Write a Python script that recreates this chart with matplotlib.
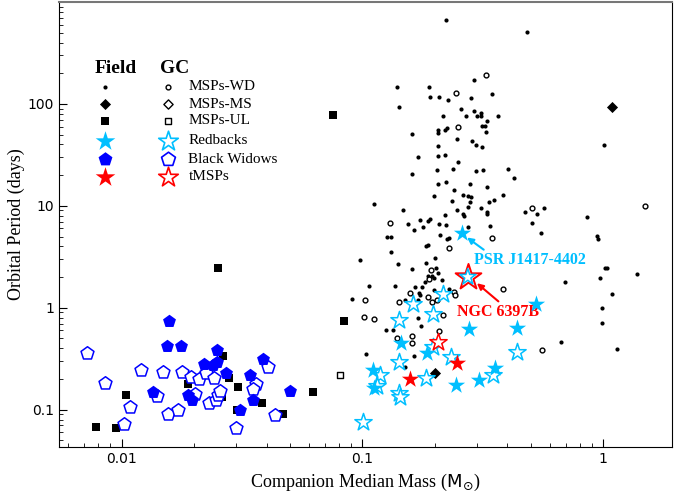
import matplotlib
matplotlib.use('Agg')
import matplotlib.pyplot as plt

# field MSPs with white dwarf companions
fwd_m = [0.223, 0.139, 0.189, 0.191, 0.208, 0.226, 0.282, 0.344, 0.291, 0.142, 0.258, 0.217, 0.270,
         0.290, 0.299, 0.311, 0.311, 0.328, 0.366, 0.324, 0.313, 0.325, 0.207, 0.207, 0.220, 0.225,
         0.161, 0.247, 0.286, 0.297, 0.314, 0.206, 0.171, 0.206, 0.221, 0.249, 0.161, 0.204, 0.238,
         0.297, 0.317, 0.402, 0.206, 0.222, 0.241, 0.281, 0.330, 0.198, 0.262, 0.274, 0.283, 0.235,
         0.279, 0.337, 0.353, 0.383, 0.112, 0.147, 0.247, 0.262, 0.263, 0.274, 0.312, 0.328, 0.329,
         0.220, 0.154, 0.164, 0.173, 0.179, 0.187, 0.191, 0.208, 0.222, 0.274, 0.339, 0.126, 0.131,
         0.210, 0.225, 0.228, 0.183, 0.187, 0.131, 0.0977, 0.140, 0.160, 0.184, 0.201, 0.202, 0.207,
         0.188, 0.194, 0.198, 0.215, 0.182, 0.177, 0.165, 0.136, 0.107, 0.0908, 0.151, 0.172, 0.173,
         0.170, 0.198, 0.230, 0.171, 0.125, 0.134, 0.176, 0.104, 0.164, 0.150, 0.484, 1.01, 0.426,
         0.472, 0.530, 0.569, 0.506, 0.551, 0.857, 0.946, 0.954, 1.02, 1.04, 0.973, 1.38, 0.693,
         1.09, 0.993, 0.988, 0.671, 1.14]
fwd_p = [661, 145, 148, 118, 116, 110, 114, 124, 173, 92.6, 89.9, 76.3, 75.6,
         84.6, 75.6, 81.6, 75.6, 67.5, 75.6, 60.9, 60.9, 53.1, 55.6, 52.3, 55.6, 58.2,
         50.3, 45.7, 43.7, 39.6, 37.9, 38.4, 30.2, 30.6, 31.8, 26.8, 20.7, 22.5, 23.2,
         22.0, 22.7, 23.2, 16.2, 17.2, 14.4, 16.3, 15.4, 12.4, 12.7, 12.5, 12.3, 11.1,
         10.9, 11.0, 11.5, 12.8, 10.5, 9.14, 9.0, 8.35, 7.91, 9.84, 9.55, 8.79, 8.35,
         8.16, 6.66, 5.73, 7.18, 6.22, 7.06, 7.39, 6.66, 6.51, 6.22, 6.27, 4.92, 4.92,
         5.23, 4.78, 4.85, 4.05, 4.11, 3.54, 2.96, 2.70, 2.39, 2.72, 3.09, 2.47, 2.20,
         2.04, 2.06, 1.94, 1.86, 1.78, 1.58, 1.58, 1.64, 1.65, 1.22, 1.18, 1.40, 1.32,
         1.20, 1.48, 1.54, 0.798, 0.609, 0.609, 0.656, 0.354, 0.335, 0.262, 504, 39.9, 18.7,
         8.65, 8.35, 9.55, 6.81, 5.43, 7.73, 5.11, 4.78, 2.47, 2.47, 1.95, 2.12, 1.78,
         1.36, 0.99, 0.702, 0.457, 0.396]

# globular cluster MSPs with white dwarf companions
gwd_m = [0.244, 0.325, 0.249, 0.130, 0.344, 0.230, 0.192, 0.190, 0.103, 0.142, 0.157, 0.188, 0.195,
         0.205, 0.240, 0.243, 0.384, 0.102, 0.112, 0.217, 0.208, 0.139, 0.161, 0.160, 0.507, 1.49, 0.557]
gwd_p = [128, 191, 59.5, 6.86, 4.86, 3.87, 2.37, 1.92, 1.20, 1.13, 1.38, 1.27, 1.13,
         1.20, 1.42, 1.34, 1.54, 0.816, 0.773, 0.841, 0.595, 0.508, 0.523, 0.447, 9.55, 9.91, 0.388]

# main-sequence companions (field)
fms_m = [1.09, 0.201]
fms_p = [94.1, 0.229]

# unclassified companions
ful_m = [0.0757, 0.0251, 0.0836, 0.00787, 0.00947, 0.0104, 0.0188, 0.0265, 0.0279, 0.0304,
         0.0262, 0.0383, 0.0469, 0.0624, 0.0302]
ful_p = [78.5, 2.48, 0.742, 0.0675, 0.066, 0.138, 0.180, 0.335, 0.204, 0.167,
         0.133, 0.116, 0.0914, 0.148, 0.0985]
gul_m = [0.0806]
gul_p = [0.217]

# black widows
fbw_m = [0.0158, 0.0154, 0.0177, 0.0248, 0.0221, 0.0240, 0.0249, 0.0271, 0.0385, 0.0343,
         0.0135, 0.0189, 0.0197, 0.0310, 0.0352, 0.0500]
fbw_p = [0.739, 0.418, 0.420, 0.388, 0.283, 0.272, 0.293, 0.229, 0.316, 0.217,
         0.149, 0.138, 0.123, 0.100, 0.123, 0.152]
gbw_m = [0.00717, 0.00858, 0.0120, 0.0149, 0.0108, 0.0102, 0.0141, 0.0156, 0.0172, 0.0179,
         0.0195, 0.0210, 0.0225, 0.0242, 0.0201, 0.0231, 0.0246, 0.0251, 0.0257, 0.0300,
         0.0363, 0.0352, 0.0406, 0.0433]
gbw_p = [0.362, 0.182, 0.247, 0.234, 0.105, 0.0718, 0.136, 0.0899, 0.0985, 0.234,
         0.209, 0.201, 0.229, 0.206, 0.144, 0.115, 0.123, 0.138, 0.152, 0.0666,
         0.180, 0.161, 0.262, 0.0879]

# redbacks
frb_m = [0.260, 0.525, 0.438, 0.278, 0.145, 0.185, 0.111, 0.112, 0.244, 0.305, 0.356]
frb_p = [5.39, 1.09, 0.637, 0.623, 0.454, 0.362, 0.243, 0.163, 0.173, 0.194, 0.258]
grb_m = [0.217, 0.163, 0.142, 0.196, 0.437, 0.233, 0.142, 0.118, 0.115, 0.183, 0.142, 0.144,
         0.350, 0.101, 0.196]
grb_p = [1.37, 1.09, 0.750, 0.860, 0.367, 0.328, 0.293, 0.220, 0.170, 0.206, 0.147, 0.133,
         0.217, 0.0756, 0.408]

# transitional MSPs
ftm_m = [0.248, 0.158]
ftm_p = [0.289, 0.201]
gtm_m = [0.206]
gtm_p = [0.460]

# NGC 6397B and PSR J1417-4402
ngc_m, ngc_p = 0.274, 2.0
psr_m, psr_p = 0.260, 5.39

cyan = '#00bfff'
blue = '#0000ff'
red = '#ff0000'
serif = 'Liberation Serif'

fig = plt.figure(figsize=(6.89, 4.91), dpi=100)
ax = fig.add_axes([0.0856, 0.0896, 0.8897, 0.9063])

ax.scatter(fwd_m, fwd_p, s=9, c='k', lw=0, zorder=3)
ax.scatter(gwd_m, gwd_p, s=12, facecolors='white', edgecolors='k', lw=1, zorder=3)
ax.scatter(fms_m, fms_p, s=32, c='k', marker='D', lw=0, zorder=3)
ax.scatter(ful_m, ful_p, s=26, c='k', marker='s', lw=0, zorder=3)
ax.scatter(gul_m, gul_p, s=22, facecolors='white', edgecolors='k', marker='s', lw=1, zorder=3)
ax.scatter(gbw_m, gbw_p, s=95, facecolors='white', edgecolors=blue, marker='p', lw=1.1, zorder=4)
ax.scatter(fbw_m, fbw_p, s=95, c=blue, marker='p', lw=0, zorder=4)
ax.scatter(grb_m, grb_p, s=170, facecolors='white', edgecolors=cyan, marker='*', lw=1.1, zorder=5)
ax.scatter(frb_m, frb_p, s=170, c=cyan, marker='*', lw=0, zorder=5)
ax.scatter(gtm_m, gtm_p, s=170, facecolors='white', edgecolors=red, marker='*', lw=1.1, zorder=6)
ax.scatter(ftm_m, ftm_p, s=170, c=red, marker='*', lw=0, zorder=6)
ax.scatter([ngc_m], [ngc_p], s=380, facecolors='white', edgecolors=red, marker='*', lw=1.4, zorder=6)
ax.scatter([ngc_m], [ngc_p], s=150, facecolors='none', edgecolors=cyan, marker='*', lw=1.1, zorder=7)

ax.annotate('PSR J1417-4402', xy=(0.272, 4.89), xytext=(0.291, 2.91),
            color=cyan, fontsize=11.5, fontweight='bold', family=serif, va='center', ha='left',
            arrowprops=dict(arrowstyle='-|>', color=cyan, lw=1.5, mutation_scale=9,
                            shrinkA=0, shrinkB=0, relpos=(0.12, 1.0)))
ax.annotate('NGC 6397B', xy=(0.299, 1.74), xytext=(0.246, 0.905),
            color=red, fontsize=11.5, fontweight='bold', family=serif, va='center', ha='left',
            arrowprops=dict(arrowstyle='-|>', color=red, lw=1.5, mutation_scale=9,
                            shrinkA=0, shrinkB=0, relpos=(0.55, 1.0)))

ax.set_xscale('log')
ax.set_yscale('log')
ax.set_xlim(0.0055, 1.93)
ax.set_ylim(0.043, 1000)
ax.set_xticks([0.01, 0.1, 1])
ax.set_xticklabels(['0.01', '0.1', '1'])
ax.set_yticks([0.1, 1, 10, 100])
ax.set_yticklabels(['0.1', '1', '10', '100'])
ax.tick_params(which='both', direction='in', labelsize=10)
ax.tick_params(which='major', length=6)
ax.tick_params(which='minor', length=3)
ax.spines['top'].set_color('#777777')
ax.spines['top'].set_linewidth(1.5)
ax.set_xlabel(r'Companion Median Mass ($\mathrm{M}_{\odot}$)', family=serif, fontsize=13, labelpad=4)
ax.set_ylabel('Orbital Period (days)', family=serif, fontsize=13, labelpad=2)

# hand-made legend with Field / GC columns
tr = ax.transAxes
ax.text(0.092, 0.851, 'Field', transform=tr, family=serif, fontsize=14, fontweight='bold',
        ha='center', va='center')
ax.text(0.188, 0.851, 'GC', transform=tr, family=serif, fontsize=14, fontweight='bold',
        ha='center', va='center')
rows = [0.810, 0.770, 0.733, 0.688, 0.647, 0.607]
labels = ['MSPs-WD', 'MSPs-MS', 'MSPs-UL', 'Redbacks', 'Black Widows', 'tMSPs']
fx, gx = 0.075, 0.178
ax.scatter([fx], [rows[0]], s=9, c='k', lw=0, transform=tr)
ax.scatter([gx], [rows[0]], s=12, facecolors='white', edgecolors='k', lw=1, transform=tr)
ax.scatter([fx], [rows[1]], s=32, c='k', marker='D', lw=0, transform=tr)
ax.scatter([gx], [rows[1]], s=22, facecolors='white', edgecolors='k', marker='D', lw=1, transform=tr)
ax.scatter([fx], [rows[2]], s=26, c='k', marker='s', lw=0, transform=tr)
ax.scatter([gx], [rows[2]], s=22, facecolors='white', edgecolors='k', marker='s', lw=1, transform=tr)
ax.scatter([fx], [rows[3]], s=220, c=cyan, marker='*', lw=0, transform=tr)
ax.scatter([gx], [rows[3]], s=220, facecolors='white', edgecolors=cyan, marker='*', lw=1.2, transform=tr)
ax.scatter([fx], [rows[4]], s=110, c=blue, marker='p', lw=0, transform=tr)
ax.scatter([gx], [rows[4]], s=110, facecolors='white', edgecolors=blue, marker='p', lw=1.2, transform=tr)
ax.scatter([fx], [rows[5]], s=220, c=red, marker='*', lw=0, transform=tr)
ax.scatter([gx], [rows[5]], s=220, facecolors='white', edgecolors=red, marker='*', lw=1.2, transform=tr)
for y, lab in zip(rows, labels):
    ax.text(0.211, y, lab, transform=tr, family=serif, fontsize=11, ha='left', va='center')

fig.savefig('out.png', dpi=100)
